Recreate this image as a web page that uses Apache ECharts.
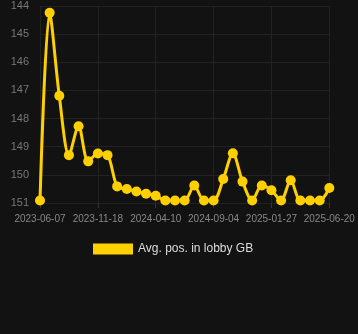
<!DOCTYPE html>
<html>
<head>
<meta charset="utf-8">
<script src="https://cdn.jsdelivr.net/npm/echarts@6/dist/echarts.min.js"></script>
<style>
html,body{margin:0;padding:0;background:#121212;}
#c{width:358px;height:334px;}
</style>
</head>
<body>
<div id="c"></div>
<script>
const categories = [
  '2023-06-07','2023-07-04','2023-07-31','2023-08-27','2023-09-23','2023-10-20',
  '2023-11-18','2023-12-12','2024-01-05','2024-01-29','2024-02-22','2024-03-17',
  '2024-04-10','2024-05-05','2024-05-29','2024-06-22','2024-07-17','2024-08-10',
  '2024-09-04','2024-09-28','2024-10-22','2024-11-15','2024-12-09','2025-01-02',
  '2025-01-27','2025-02-20','2025-03-16','2025-04-09','2025-05-03','2025-05-27',
  '2025-06-20'
];
const avgPos = [
  150.91, 144.24, 147.19, 149.30, 148.27, 149.52,
  149.24, 149.30, 150.41, 150.50, 150.59, 150.67,
  150.74, 150.91, 150.91, 150.91, 150.38, 150.91,
  150.91, 150.15, 149.23, 150.24, 150.91, 150.38,
  150.55, 150.91, 150.19, 150.91, 150.91, 150.91,
  150.47
];
const seriesName = 'Avg. pos. in lobby GB';

const chart = echarts.init(document.getElementById('c'), null, {renderer:'canvas'});
chart.setOption({
  backgroundColor: '#121212',
  animation: false,
  grid: {left: 40, right: 28.7, top: 6, bottom: 131, containLabel: false},
  legend: {
    data: [seriesName],
    top: 238,
    left: 88,
    icon: 'rect',
    itemWidth: 40,
    itemHeight: 11,
    textStyle: {color: '#dddddd', fontSize: 12, fontFamily: 'Liberation Sans, Arial, sans-serif'}
  },
  xAxis: {
    type: 'category',
    data: categories,
    boundaryGap: false,
    axisLine: {show: false},
    axisTick: {show: true, interval: 5, length: 5, lineStyle: {color: '#333'}},
    axisLabel: {interval: 5, color: '#888', fontSize: 10, margin: 11, fontFamily: 'Liberation Sans, Arial, sans-serif'},
    splitLine: {show: true, interval: 5, lineStyle: {color: '#222', width: 1}}
  },
  yAxis: {
    type: 'value',
    inverse: true,
    min: 144,
    max: 151,
    interval: 1,
    axisLine: {show: false},
    axisTick: {show: false},
    axisLabel: {color: '#777', fontSize: 11, margin: 11, fontFamily: 'Liberation Sans, Arial, sans-serif'},
    splitLine: {show: true, lineStyle: {color: '#222', width: 1}}
  },
  series: [{
    name: seriesName,
    type: 'line',
    data: avgPos,
    smooth: 0.3,
    symbol: 'circle',
    symbolSize: 10,
    showAllSymbol: true,
    lineStyle: {color: '#FFD000', width: 3},
    itemStyle: {color: '#FFD000'}
  }]
});
</script>
</body>
</html>
